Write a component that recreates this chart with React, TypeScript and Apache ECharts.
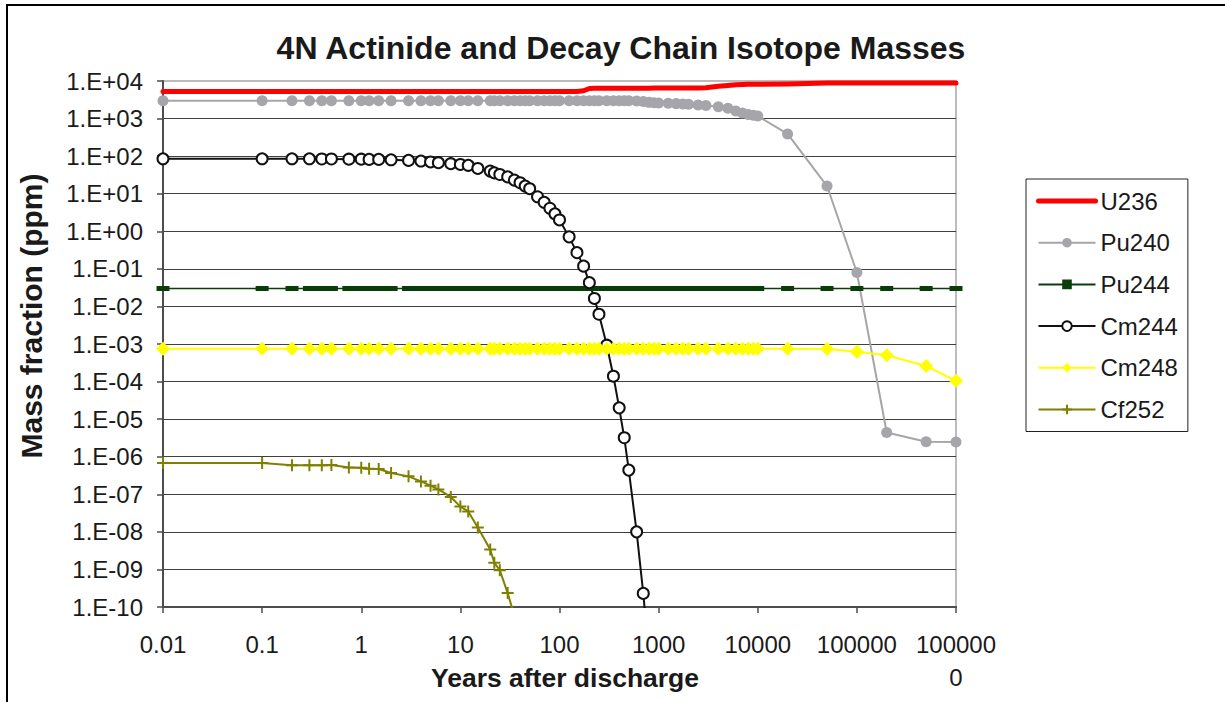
import React, { useEffect, useRef } from 'react';
import * as echarts from 'echarts';

// Years after discharge (shared time grid)
const YEARS = [
  0.01, 0.1, 0.2, 0.3, 0.4, 0.5, 0.75, 1, 1.2, 1.5,
  2, 3, 4, 5, 6, 8, 10, 12, 15, 20,
  22, 25, 30, 35, 40, 45, 50, 60, 70, 80,
  90, 100, 125, 150, 175, 200, 225, 250, 300, 350,
  400, 450, 500, 600, 700, 800, 900, 1000, 1250, 1500,
  1750, 2000, 2500, 3000, 4000, 5000, 6000, 7000, 8000, 9000,
  10000, 20000, 50000, 100000, 200000, 500000, 1000000,
];

const U236 = [
  5250, 5250, 5250, 5250, 5250, 5250, 5250, 5250, 5250, 5250,
  5250, 5250, 5250, 5250, 5250, 5250, 5250, 5250, 5250, 5250,
  5250, 5250, 5250, 5250, 5250, 5250, 5250, 5250, 5250, 5250,
  5250, 5250, 5250, 5250, 5500, 6300, 6400, 6400, 6400, 6400,
  6400, 6450, 6450, 6450, 6450, 6450, 6500, 6500, 6500, 6500,
  6500, 6500, 6550, 6650, 7200, 7600, 7900, 8100, 8150, 8200,
  8200, 8300, 8800, 8800, 8800, 8800, 8800,
];

const PU240 = [
  3000, 3000, 3000, 3000, 3000, 3000, 3000, 3000, 3000, 3000,
  3000, 3000, 3000, 3000, 3000, 3000, 3000, 3000, 3000, 3000,
  3000, 3000, 3000, 3000, 3000, 3000, 3000, 3000, 3000, 3000,
  3000, 3000, 3000, 3000, 3000, 3000, 3000, 3000, 3000, 3000,
  3000, 3000, 3000, 2950, 2850, 2700, 2650, 2600, 2550, 2500,
  2450, 2400, 2300, 2230, 2070, 1870, 1600, 1400, 1280, 1220,
  1170, 390, 16, 0.08, 4.4e-6, 2.5e-6, 2.45e-6,
];

const PU244 = [
  0.03, 0.03, 0.03, 0.03, 0.03, 0.03, 0.03, 0.03, 0.03, 0.03,
  0.03, 0.03, 0.03, 0.03, 0.03, 0.03, 0.03, 0.03, 0.03, 0.03,
  0.03, 0.03, 0.03, 0.03, 0.03, 0.03, 0.03, 0.03, 0.03, 0.03,
  0.03, 0.03, 0.03, 0.03, 0.03, 0.03, 0.03, 0.03, 0.03, 0.03,
  0.03, 0.03, 0.03, 0.03, 0.03, 0.03, 0.03, 0.03, 0.03, 0.03,
  0.03, 0.03, 0.03, 0.03, 0.03, 0.03, 0.03, 0.03, 0.03, 0.03,
  0.03, 0.03, 0.03, 0.03, 0.03, 0.03, 0.03,
];

const CM244 = [
  85, 85, 85, 85, 84, 84, 83, 83, 82, 82,
  80, 77, 74, 70, 67, 63, 60, 57, 47, 40,
  36, 32.5, 28, 23, 19.6, 16, 13.6, 8.3, 5.9, 4.1,
  2.9, 2.0, 0.71, 0.27, 0.118, 0.043, 0.0163, 0.0062, 9.3e-4, 1.39e-4,
  2.0e-5, 3.2e-6, 4.4e-7, 1.0e-8, 2.3e-10, 5e-12,
];

const CM248 = [
  7.5e-4, 7.5e-4, 7.5e-4, 7.5e-4, 7.5e-4, 7.5e-4, 7.5e-4, 7.5e-4, 7.5e-4, 7.5e-4,
  7.5e-4, 7.5e-4, 7.5e-4, 7.5e-4, 7.5e-4, 7.5e-4, 7.5e-4, 7.5e-4, 7.5e-4, 7.5e-4,
  7.5e-4, 7.5e-4, 7.5e-4, 7.5e-4, 7.5e-4, 7.5e-4, 7.5e-4, 7.5e-4, 7.5e-4, 7.5e-4,
  7.5e-4, 7.5e-4, 7.5e-4, 7.5e-4, 7.5e-4, 7.5e-4, 7.5e-4, 7.5e-4, 7.5e-4, 7.5e-4,
  7.5e-4, 7.5e-4, 7.5e-4, 7.5e-4, 7.5e-4, 7.5e-4, 7.5e-4, 7.5e-4, 7.5e-4, 7.5e-4,
  7.5e-4, 7.5e-4, 7.5e-4, 7.5e-4, 7.5e-4, 7.5e-4, 7.5e-4, 7.5e-4, 7.5e-4, 7.5e-4,
  7.5e-4, 7.5e-4, 7.4e-4, 6.2e-4, 5.0e-4, 2.6e-4, 1.05e-4,
];

const CF252 = [
  6.8e-7, 6.8e-7, 5.9e-7, 5.9e-7, 5.9e-7, 6.0e-7, 5.2e-7, 5.1e-7, 4.8e-7, 4.7e-7,
  3.7e-7, 3.0e-7, 2.2e-7, 1.7e-7, 1.35e-7, 8.5e-8, 4.7e-8, 3.5e-8, 1.3e-8, 3.4e-9,
  1.5e-9, 9.5e-10, 2.35e-10, 6e-11,
];

const SERIES_NAMES = ['U236', 'Pu240', 'Pu244', 'Cm244', 'Cm248', 'Cf252'];
const X_TICK_LABELS = ['0.01', '0.1', '1', '10', '100', '1000', '10000', '100000', '100000\n0'];
const Y_TICK_LABELS = [
  '1.E-10', '1.E-09', '1.E-08', '1.E-07', '1.E-06', '1.E-05', '1.E-04',
  '1.E-03', '1.E-02', '1.E-01', '1.E+00', '1.E+01', '1.E+02', '1.E+03', '1.E+04',
];

const FONT = 'Liberation Sans, Arial, Helvetica, sans-serif';

const pairs = (vals: number[]) => vals.map((v, i) => [YEARS[i], v]);

export default function App() {
  const ref = useRef<HTMLDivElement>(null);

  useEffect(() => {
    if (!ref.current) return;
    const chart = echarts.init(ref.current, null, { renderer: 'svg' });
    const axisColor = '#4d4d4d';
    chart.setOption({
      animation: false,
      backgroundColor: '#ffffff',
      textStyle: { fontFamily: FONT },
      grid: {
        left: 163, top: 81, width: 793, height: 526,
        show: true, borderColor: '#a6a6a6', borderWidth: 1.5, backgroundColor: 'transparent',
      },
      graphic: [
        {
          type: 'rect', z: -10,
          shape: { x: 7, y: 5, width: 1400, height: 900 },
          style: { fill: 'none', stroke: '#000', lineWidth: 2 },
        },
        {
          type: 'text', x: 621, y: 48,
          style: {
            text: '4N Actinide and Decay Chain Isotope Masses',
            font: `bold 32px ${FONT}`, fill: '#1a1a1a', align: 'center', verticalAlign: 'middle',
          },
        },
        {
          type: 'text', x: 565, y: 678,
          style: {
            text: 'Years after discharge',
            font: `bold 26.5px ${FONT}`, fill: '#1a1a1a', align: 'center', verticalAlign: 'middle',
          },
        },
        {
          type: 'text', x: 31, y: 316, rotation: Math.PI / 2,
          style: {
            text: 'Mass fraction (ppm)',
            font: `bold 30px ${FONT}`, fill: '#1a1a1a', align: 'center', verticalAlign: 'middle',
          },
        },
      ],
      legend: {
        orient: 'vertical',
        left: 1026, top: 179,
        padding: [10, 10, 10, 10],
        itemGap: 17.7,
        itemWidth: 57, itemHeight: 12,
        borderColor: '#222', borderWidth: 1, backgroundColor: '#fff',
        textStyle: { fontSize: 24, color: '#1a1a1a', fontFamily: FONT },
        data: [
          { name: 'U236', itemStyle: { opacity: 0 }, lineStyle: { width: 5, cap: 'round' } },
          { name: 'Pu240' },
          { name: 'Pu244' },
          { name: 'Cm244' },
          { name: 'Cm248' },
          { name: 'Cf252' },
        ],
      },
      xAxis: {
        type: 'log', logBase: 10, min: 0.01, max: 1000000, interval: 1,
        axisLine: { show: true, lineStyle: { color: axisColor, width: 2 } },
        axisTick: { show: true, length: 6, lineStyle: { color: axisColor, width: 1.5 } },
        minorTick: { show: false },
        splitLine: { show: false },
        axisLabel: {
          show: true, margin: 21, fontSize: 24, lineHeight: 33, color: '#1a1a1a', fontFamily: FONT,
          showMinLabel: true, showMaxLabel: true,
          formatter: (v: number) => {
            const e = Math.round(Math.log10(v));
            return X_TICK_LABELS[e + 2] ?? '';
          },
        },
      },
      yAxis: {
        type: 'log', logBase: 10, min: 1e-10, max: 1e4, interval: 1,
        axisLine: { show: true, lineStyle: { color: axisColor, width: 2 } },
        axisTick: { show: true, length: 6, lineStyle: { color: axisColor, width: 1.5 } },
        minorTick: { show: false },
        splitLine: { show: true, showMaxLine: false, lineStyle: { color: '#404040', width: 1 } },
        axisLabel: {
          show: true, margin: 20, fontSize: 24, color: '#1a1a1a', fontFamily: FONT,
          showMinLabel: true, showMaxLabel: true,
          formatter: (v: number) => {
            const e = Math.round(Math.log10(v));
            return Y_TICK_LABELS[e + 10] ?? '';
          },
        },
      },
      series: [
        {
          name: SERIES_NAMES[0], type: 'line', data: pairs(U236),
          symbol: 'circle', showSymbol: false, symbolSize: 1,
          itemStyle: { color: '#ff0000' },
          lineStyle: { color: '#ff0000', width: 5, cap: 'round', join: 'round' },
        },
        {
          name: SERIES_NAMES[1], type: 'line', data: pairs(PU240),
          symbol: 'circle', symbolSize: 11, showSymbol: true,
          itemStyle: { color: '#a6a6aa' },
          lineStyle: { color: '#a6a6a6', width: 2 },
        },
        {
          name: SERIES_NAMES[2], type: 'line', data: pairs(PU244),
          symbol: 'rect', symbolSize: [13, 5], showSymbol: true,
          itemStyle: { color: '#0b3d0b' },
          lineStyle: { color: '#0b3d0b', width: 1.5 },
        },
        {
          name: SERIES_NAMES[3], type: 'line', data: pairs(CM244),
          symbol: 'circle', symbolSize: 11, showSymbol: true,
          itemStyle: { color: '#ffffff', borderColor: '#111', borderWidth: 2 },
          lineStyle: { color: '#111', width: 2 },
        },
        {
          name: SERIES_NAMES[4], type: 'line', data: pairs(CM248),
          symbol: 'diamond', symbolSize: 14, showSymbol: true,
          itemStyle: { color: '#ffff00' },
          lineStyle: { color: '#ffff00', width: 2 },
        },
        {
          name: SERIES_NAMES[5], type: 'line', data: pairs(CF252),
          symbol: 'path://M6,0V12M0,6H12', symbolSize: 12, showSymbol: true,
          itemStyle: { color: '#808000', borderColor: '#808000', borderWidth: 2 },
          lineStyle: { color: '#808000', width: 2 },
        },
      ],
    });
    return () => chart.dispose();
  }, []);

  return (
    <div
      ref={ref}
      style={{ position: 'absolute', left: 0, top: 0, width: 1225, height: 702 }}
    />
  );
}
